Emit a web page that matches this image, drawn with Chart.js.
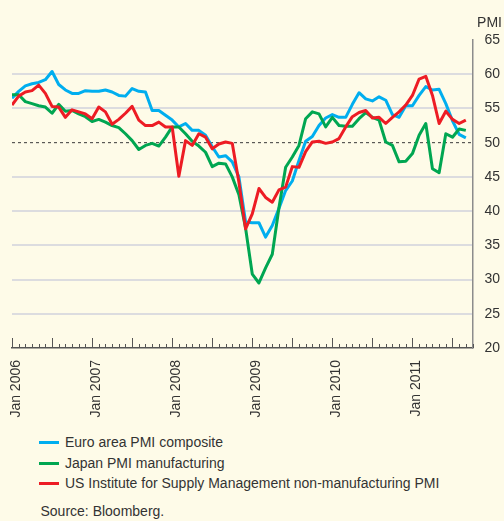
<!DOCTYPE html>
<html>
<head>
<meta charset="utf-8">
<title>PMI</title>
<script src="https://cdn.jsdelivr.net/npm/chart.js@4.4.0/dist/chart.umd.min.js"></script>
<style>
  html, body { margin: 0; padding: 0; background: #fefbe8; }
  body { font-family: "Liberation Sans", Arial, sans-serif; color: #333; }
  #wrap { position: relative; width: 504px; height: 521px; overflow: hidden; }
  #chart { position: absolute; left: 0; top: 0; }
  .row { position: absolute; left: 0; height: 20.7px; line-height: 20.7px; font-size: 14px; white-space: nowrap; }
  .row .swatch { position: absolute; left: 39px; top: 9px; width: 20px; height: 3px; }
  .row .label { position: absolute; left: 65px; top: 0; }
  #source { position: absolute; left: 40.5px; top: 500.5px; font-size: 14px; line-height: 20px; }
</style>
</head>
<body>
<div id="wrap">
  <canvas id="chart" width="504" height="430"></canvas>
  <div id="legend"></div>
  <div id="source">Source: Bloomberg.</div>
</div>
<script>
// monthly readings, Dec 2005 .. Aug 2011 (plotted at month end)
const euroArea = [
  56.5, 57.5, 58.3, 58.6, 58.8, 59.2, 60.4, 58.5, 57.7, 57.2, 57.2, 57.6,
  57.5, 57.5, 57.7, 57.4, 56.9, 56.8, 57.9, 57.5, 57.4, 54.7, 54.7, 54.0,
  53.3, 52.3, 52.8, 51.8, 51.8, 51.1, 49.4, 47.9, 48.1, 47.2, 45.0, 38.4,
  38.3, 38.3, 36.2, 37.9, 40.4, 43.0, 44.4, 47.4, 50.2, 50.9, 52.5, 53.6,
  54.1, 53.7, 53.7, 55.6, 57.3, 56.4, 56.1, 56.7, 56.2, 54.1, 53.7, 55.4,
  55.4, 56.9, 58.2, 57.7, 57.8, 55.7, 53.2, 51.2, 50.7
];
const japan = [
  57.0, 57.0, 56.0, 55.7, 55.4, 55.2, 54.3, 55.6, 54.6, 54.7, 54.2, 53.8,
  53.1, 53.4, 53.0, 52.5, 52.2, 51.3, 50.3, 49.0, 49.6, 49.9, 49.5, 50.8,
  52.3, 52.3, 51.3, 50.2, 49.5, 48.6, 46.5, 47.0, 46.9, 45.0, 42.4, 37.5,
  30.8, 29.5, 31.7, 33.7, 40.5, 46.4, 47.9, 49.6, 53.5, 54.5, 54.2, 52.3,
  53.7, 52.5, 52.4, 52.4, 53.5, 54.4, 53.7, 53.3, 50.1, 49.6, 47.2, 47.3,
  48.4, 51.1, 52.8, 46.2, 45.6, 51.3, 50.8, 52.0, 51.8
];
const usIsm = [
  55.5, 56.8, 57.4, 57.6, 58.4, 57.2, 55.3, 55.2, 53.7, 54.8, 54.5, 54.2,
  53.5, 55.2, 54.5, 52.7, 53.4, 54.3, 55.3, 53.3, 52.5, 52.5, 53.0, 52.3,
  52.3, 45.1, 50.3, 49.6, 51.3, 50.8, 49.1, 49.8, 50.1, 49.9, 44.2, 37.4,
  39.6, 43.3, 42.0, 41.3, 43.1, 43.5, 46.5, 46.4, 48.7, 50.1, 50.2, 49.9,
  50.1, 50.6, 52.3, 53.8, 54.4, 54.7, 53.6, 53.7, 52.8, 53.7, 54.5, 55.5,
  56.9, 59.3, 59.7, 56.9, 52.8, 54.6, 53.4, 52.8, 53.3
];
const yearLabels = ['Jan 2006', 'Jan 2007', 'Jan 2008', 'Jan 2009', 'Jan 2010', 'Jan 2011'];
const seriesNames = [
  'Euro area PMI composite',
  'Japan PMI manufacturing',
  'US Institute for Supply Management non-manufacturing PMI'
];
const colors = ['#00aeef', '#00a651', '#ed1c24'];
const monthsShown = 69;   // Jan 2006 .. end of Sep 2011
const yMin = 20, yMax = 65, threshold = 50;

const FONT = '"Liberation Sans", Arial, sans-serif';
const toPoints = arr => arr.map((v, i) => ({ x: i, y: v }));

// dashed 50 line and the small month ticks on the bottom axis
const extras = {
  id: 'extras',
  beforeDatasetsDraw(chart) {
    const { ctx, chartArea, scales } = chart;
    const py = scales.y.getPixelForValue(threshold);
    ctx.save();
    ctx.strokeStyle = '#3a3a3a';
    ctx.lineWidth = 1;
    ctx.setLineDash([3, 3]);
    ctx.beginPath();
    ctx.moveTo(chartArea.left, py);
    ctx.lineTo(chartArea.right, py);
    ctx.stroke();
    ctx.restore();
  },
  afterDraw(chart) {
    const { ctx, chartArea, scales } = chart;
    ctx.save();
    ctx.strokeStyle = '#555';
    ctx.lineWidth = 1;
    for (let m = 0; m <= monthsShown; m++) {
      const px = Math.round(scales.x.getPixelForValue(m)) + 0.5;
      const len = m % 6 === 0 ? 10 : 4;
      ctx.beginPath();
      ctx.moveTo(px, chartArea.bottom);
      ctx.lineTo(px, chartArea.bottom - len);
      ctx.stroke();
    }
    ctx.restore();
  }
};

const datasets = [euroArea, japan, usIsm].map((arr, i) => ({
  label: seriesNames[i],
  data: toPoints(arr),
  borderColor: colors[i],
  backgroundColor: colors[i],
  borderWidth: 3,
  pointRadius: 0,
  tension: 0,
  borderJoinStyle: 'round',
  order: 3 - i
}));

new Chart(document.getElementById('chart'), {
  type: 'line',
  data: { datasets },
  options: {
    responsive: false,
    animation: false,
    events: [],
    layout: { padding: { left: 12, right: 2, top: 0, bottom: 0 } },
    plugins: {
      legend: { display: false },
      tooltip: { enabled: false },
      title: {
        display: true,
        text: 'PMI',
        align: 'end',
        color: '#333',
        font: { family: FONT, size: 14, weight: 'normal' },
        padding: { top: 15, bottom: 8.2 }
      }
    },
    scales: {
      x: {
        type: 'linear',
        min: 0,
        max: monthsShown,
        grid: { display: false, drawTicks: false },
        border: { display: true, color: '#555', width: 1.5 },
        ticks: {
          stepSize: 12,
          includeBounds: false,
          autoSkip: false,
          maxRotation: 90,
          minRotation: 90,
          padding: 12,
          labelOffset: 4,
          color: '#333',
          font: { family: FONT, size: 14 },
          callback: v => (v % 12 === 0 ? yearLabels[v / 12] : '')
        },
        afterFit(scale) { scale.height = 82; }
      },
      y: {
        position: 'right',
        min: yMin,
        max: yMax,
        grid: {
          drawTicks: false,
          lineWidth: 2,
          color: c => {
            const v = c.tick && c.tick.value;
            return (v > yMin && v < yMax && v !== threshold) ? '#dcdcdf' : 'rgba(0,0,0,0)';
          }
        },
        border: { display: true, color: '#8c8c8c', width: 1.5 },
        ticks: {
          stepSize: 5,
          padding: 12,
          color: '#333',
          font: { family: FONT, size: 14 }
        },
        afterFit(scale) { scale.width = 29.5; }
      }
    }
  },
  plugins: [extras]
});

// legend rows under the chart
const legend = document.getElementById('legend');
seriesNames.forEach((name, i) => {
  const row = document.createElement('div');
  row.className = 'row';
  row.style.top = (432 + i * 20.7) + 'px';
  row.innerHTML = '<span class="swatch" style="background:' + colors[i] + '"></span>' +
    '<span class="label"></span>';
  row.querySelector('.label').textContent = name;
  legend.appendChild(row);
});
</script>
</body>
</html>
